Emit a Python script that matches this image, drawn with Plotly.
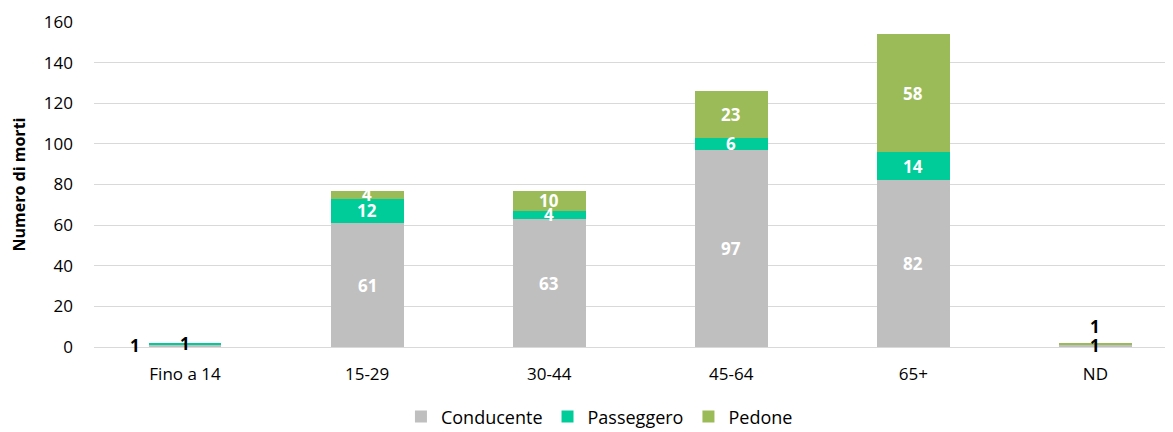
import plotly.graph_objects as go

categories = ["Fino a 14", "15-29", "30-44", "45-64", "65+", "ND"]
conducente = [1, 61, 63, 97, 82, 1]
passeggero = [1, 12, 4, 6, 14, 0]
pedone = [0, 4, 10, 23, 58, 1]

series = [
    ("Conducente", conducente, "#BFBFBF"),
    ("Passeggero", passeggero, "#00CC99"),
    ("Pedone", pedone, "#9BBB59"),
]

FONT = "Open Sans"

fig = go.Figure()
for name, vals, col in series:
    fig.add_trace(go.Bar(
        x=categories, y=vals, name=name, marker=dict(color=col, line=dict(width=0)),
        width=0.4,
    ))

annotations = []
base = [0] * len(categories)
for si, (name, vals, col) in enumerate(series):
    for i, v in enumerate(vals):
        if v > 0:
            mid = base[i] + v / 2
            small = v < 2
            xshift = 0
            yshift = 0
            if small:
                if categories[i] == "Fino a 14" and name == "Conducente":
                    xshift = -50
                if categories[i] == "ND" and name == "Pedone":
                    yshift = 17
            annotations.append(dict(
                x=categories[i], y=mid, text=f"<b>{v}</b>", showarrow=False,
                xshift=xshift, yshift=yshift,
                font=dict(color="black" if small else "white", size=17, family=FONT),
            ))
        base[i] += v

fig.update_layout(
    barmode="stack",
    width=1173, height=432,
    margin=dict(l=86, r=0, t=14, b=93, autoexpand=False),
    plot_bgcolor="white", paper_bgcolor="white",
    font=dict(family=FONT, size=17, color="black"),
    annotations=annotations,
    showlegend=True,
    legend=dict(orientation="h", x=0.465, xanchor="center", y=-0.215, yanchor="middle",
                font=dict(size=18), traceorder="normal", itemwidth=30),
)
fig.update_xaxes(range=[-0.5, 5.47], showgrid=False, showline=False, ticks="", automargin=False,
                 ticklabelstandoff=15, tickfont=dict(size=17))
fig.update_yaxes(range=[0, 160], dtick=20, showgrid=True, gridcolor="#D9D9D9", gridwidth=1,
                 zeroline=True, zerolinecolor="#D9D9D9", zerolinewidth=1, automargin=False,
                 ticks="", ticklabelstandoff=20, tickfont=dict(size=17),
                 title=dict(text="<b>Numero di morti</b>", font=dict(size=16), standoff=14))

fig.write_html("out.html")
